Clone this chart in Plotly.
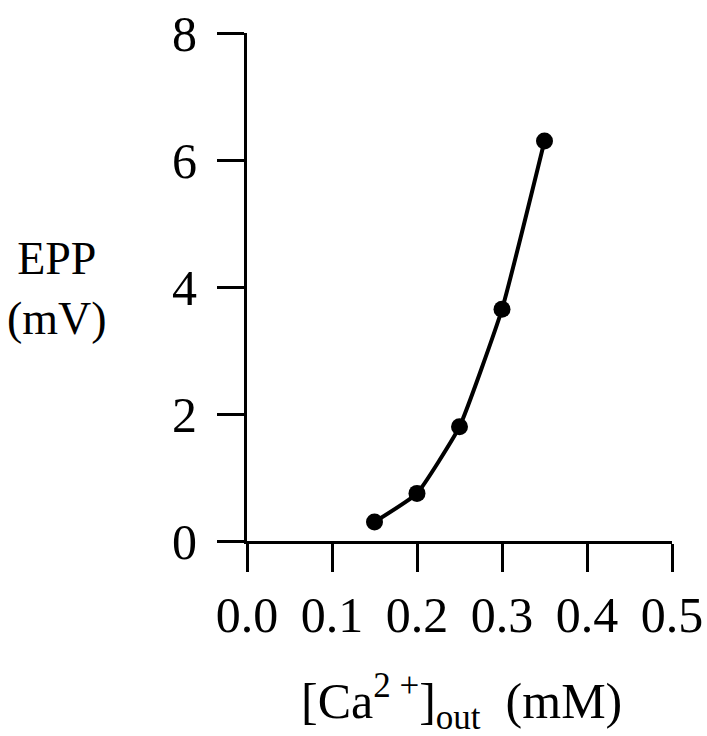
import plotly.graph_objects as go

ca_out = [0.15, 0.20, 0.25, 0.30, 0.35]
epp_mv = [0.3, 0.75, 1.8, 3.65, 6.3]
x_ticks = [0.0, 0.1, 0.2, 0.3, 0.4, 0.5]
x_ticklabels = ["0.0", "0.1", "0.2", "0.3", "0.4", "0.5"]
y_ticks = [0, 2, 4, 6, 8]
y_ticklabels = ["0", "2", "4", "6", "8"]

FONT = "Liberation Serif"

fig = go.Figure()
fig.add_trace(go.Scatter(
    x=ca_out, y=epp_mv, mode="lines+markers",
    line=dict(color="black", width=4, shape="spline", smoothing=0.4),
    marker=dict(color="black", size=17),
    cliponaxis=False, showlegend=False,
))

axis_common = dict(
    showline=True, linecolor="black", linewidth=3,
    ticks="outside", tickcolor="black", tickwidth=3,
    showgrid=False, zeroline=False, automargin=False,
    tickfont=dict(family=FONT, size=50, color="black"),
)

fig.update_layout(
    width=707, height=736,
    margin=dict(l=247, r=35, t=33, b=195),
    paper_bgcolor="white", plot_bgcolor="white",
    xaxis=dict(range=[0, 0.5], tickvals=x_ticks, ticktext=x_ticklabels,
               ticklen=28, **axis_common),
    yaxis=dict(range=[0, 8], tickvals=y_ticks, ticktext=y_ticklabels,
               ticklen=27, ticklabelstandoff=10, **axis_common),
    annotations=[
        dict(text="EPP<br>(mV)", xref="paper", yref="paper",
             x=(57 - 247) / 425, y=(541 - 288) / 508,
             xanchor="center", yanchor="middle", showarrow=False,
             font=dict(family=FONT, size=46, color="black")),
        dict(text="[Ca<sup>2 +</sup>]<sub>out</sub>  (mM)", xref="paper", yref="paper",
             x=(461 - 247) / 425, y=(541 - 702) / 508,
             xanchor="center", yanchor="middle", showarrow=False,
             font=dict(family=FONT, size=50, color="black")),
    ],
)

fig.write_html("out.html")
